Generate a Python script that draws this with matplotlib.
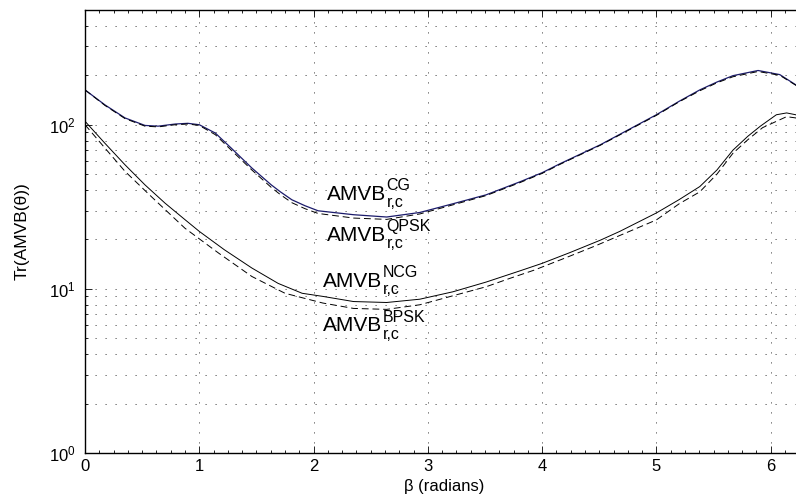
import numpy as np
import matplotlib
matplotlib.use('Agg')
import matplotlib.pyplot as plt
from matplotlib.ticker import MultipleLocator, LogLocator, NullFormatter

# values
beta_cg = [0, .175, .35, .525, .64, .79, .90, 1.0, 1.14, 1.28, 1.46, 1.63, 1.71, 1.81,
           1.925, 2.04, 2.35, 2.64, 2.93, 3.22, 3.51, 3.81, 4.0, 4.16, 4.51, 5.0, 5.2,
           5.38, 5.53, 5.67, 5.89, 6.08, 6.22, 6.283]
tr_cg = [163, 132, 110, 99, 98, 101, 102, 100, 89, 72, 54.5, 43, 39, 34.9,
         32.1, 29.9, 28.3, 27.4, 29.2, 33, 37.4, 45, 51, 58, 75.5, 115, 139,
         163, 182, 199, 214, 202, 175, 165]

beta_qpsk = beta_cg
tr_qpsk = [163, 131, 109, 98, 97, 100, 101, 99, 87, 70, 53, 41.5, 37.5, 33.5,
           30.8, 28.8, 27, 26.5, 28.6, 32.5, 37, 44.5, 50.5, 57.5, 75, 114, 138,
           161, 180, 196, 211, 200, 174, 164]

beta_ncg = [0, .175, .35, .525, .7, .875, 1.0, 1.22, 1.46, 1.69, 1.90, 2.08, 2.35,
            2.64, 2.93, 3.22, 3.51, 3.81, 4.0, 4.24, 4.51, 4.68, 5.0, 5.2, 5.38, 5.53,
            5.67, 5.80, 5.91, 6.05, 6.14, 6.22, 6.283]
tr_ncg = [105, 77, 57, 43, 33.3, 26.4, 22.4, 17.3, 13.4, 10.8, 9.4, 9.0, 8.37,
          8.26, 8.65, 9.6, 11.0, 12.9, 14.3, 16.6, 19.8, 22.4, 29, 35, 42, 53,
          70, 85, 98, 115, 118, 115, 108]

beta_bpsk = [0, .175, .35, .58, .875, 1.17, 1.46, 1.75, 2.08, 2.35, 2.64, 2.93,
             3.51, 3.72, 3.93, 4.2, 4.46, 5.0, 5.2, 5.38, 5.53, 5.67, 5.80, 5.93,
             6.14, 6.22, 6.283]
tr_bpsk = [100, 72, 52, 36.5, 23.4, 16.5, 11.9, 9.4, 8.2, 7.6, 7.5, 8.0,
           10.3, 11.6, 13.0, 15.4, 18.2, 26.3, 33, 39, 50, 67, 81, 96,
           112, 110, 104]

label_main = 'AMVB'
label_sup = ['CG', 'QPSK', 'NCG', 'BPSK']
label_sub = 'r,c'
label_x = [2.115, 2.115, 2.085, 2.085]
label_y = [34.9, 19.7, 10.3, 5.5]

plt.rcParams['font.family'] = ['Liberation Sans', 'DejaVu Sans']
plt.rcParams['mathtext.default'] = 'regular'

fig = plt.figure(figsize=(7.96, 4.97), dpi=100)
ax = fig.add_axes([85 / 796, 44 / 497, 718 / 796, 443 / 497])

ax.plot(beta_cg, tr_cg, color='#1b1b6b', lw=0.9)
ax.plot(beta_qpsk, tr_qpsk, color='k', lw=0.7, dashes=(7, 4))
ax.plot(beta_ncg, tr_ncg, color='k', lw=0.7)
ax.plot(beta_bpsk, tr_bpsk, color='k', lw=0.7, dashes=(7, 4))

for sup, x, y in zip(label_sup, label_x, label_y):
    t = ax.text(x, y, label_main, fontsize=15, ha='left', va='baseline')
    ax.annotate(sup, xy=(1, y), xycoords=(t, 'data'), xytext=(0.5, 6.7),
                textcoords='offset points', fontsize=11.5, ha='left', va='baseline')
    ax.annotate(label_sub, xy=(1, y), xycoords=(t, 'data'), xytext=(0.5, -5.3),
                textcoords='offset points', fontsize=11.5, ha='left', va='baseline')

ax.set_yscale('log')
ax.set_xlim(0, 2 * np.pi)
ax.set_ylim(1, 500)
ax.set_xticks(range(7))
ax.xaxis.set_minor_locator(MultipleLocator(0.125))
ax.yaxis.set_minor_locator(LogLocator(base=10, subs=np.arange(2, 10)))
ax.yaxis.set_minor_formatter(NullFormatter())

ax.tick_params(which='both', direction='in', top=True, right=True, labelsize=12, width=0.6)
ax.tick_params(which='major', length=5, pad=4)
ax.tick_params(which='minor', length=2.5)
ax.tick_params(axis='y', which='major', pad=7)

grid_style = dict(color='0.25', lw=0.6, linestyle=(0, (1.45, 10.55)))
ax.grid(True, axis='x', which='major', **grid_style)
ax.grid(True, axis='y', which='both', **grid_style)

for s in ax.spines.values():
    s.set_linewidth(1.0)

ax.set_xlabel('β (radians)', fontsize=12)
ax.xaxis.set_label_coords(0.5, -0.058)
ax.set_ylabel('Tr(AMVB(θ))', fontsize=12.5)
ax.yaxis.set_label_coords(-0.0766, 0.5)

fig.savefig('out.png', dpi=100)
